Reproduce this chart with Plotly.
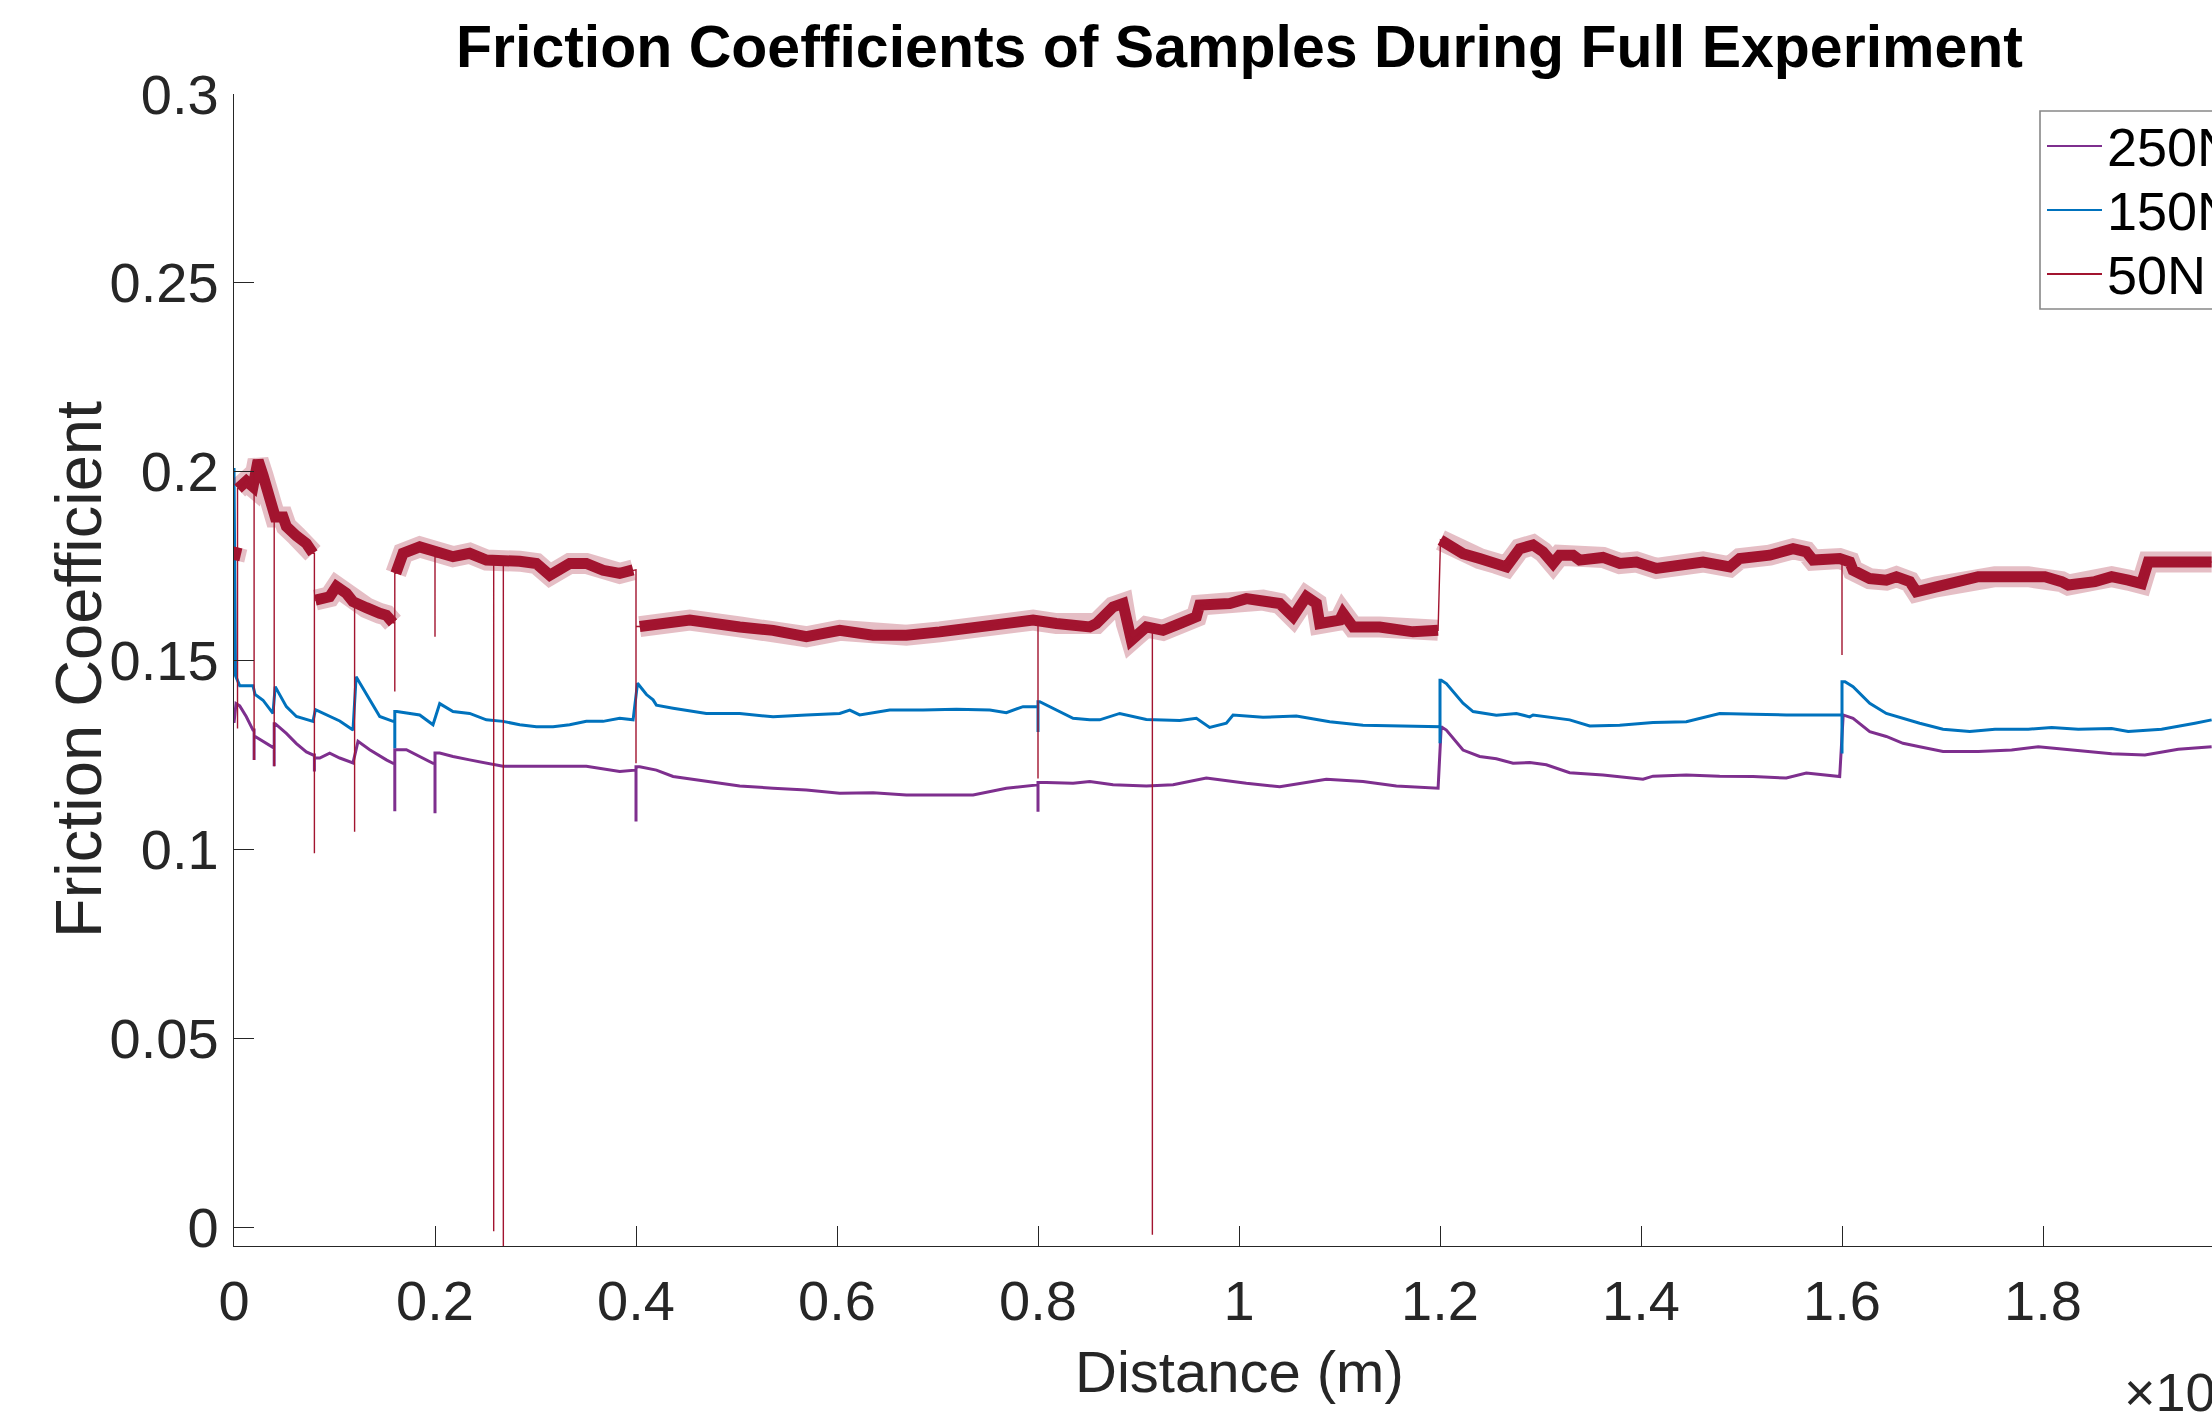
import plotly.graph_objects as go

# Distance in units of 10^4 m
p250_x = [0, 0.002, 0.0057, 0.0123, 0.0189, 0.021, 0.0289, 0.0388, 0.041, 0.0521, 0.0621, 0.0720, 0.0786,
          0.0853, 0.0952, 0.1052, 0.1184, 0.1234, 0.1350, 0.1516, 0.1582, 0.1715, 0.1848, 0.1980,
          0.2047, 0.2179, 0.2345, 0.2511, 0.2677, 0.2843, 0.3175, 0.3506, 0.3838, 0.3971,
          0.4037, 0.4203, 0.4369, 0.4700, 0.5032, 0.5364, 0.5695, 0.6027, 0.6359, 0.6690, 0.7022,
          0.7354, 0.7685, 0.7951, 0.8083, 0.8349, 0.8515, 0.8747, 0.9078, 0.9344, 0.9675, 1.0073,
          1.0405, 1.0869, 1.1234, 1.1566, 1.1981, 1.2012, 1.2063, 1.2229, 1.2395, 1.2561, 1.2727,
          1.2893, 1.3058, 1.3290, 1.3622, 1.4020, 1.4120, 1.4451, 1.4783, 1.5115, 1.5446, 1.5645,
          1.5977, 1.6012, 1.6110, 1.6276, 1.6441, 1.6607, 1.6773, 1.7005, 1.7356, 1.7688, 1.7953,
          1.8351, 1.8683, 1.9014, 1.9346, 1.9678]
p250_y = [0.1335, 0.1386, 0.1380, 0.1351, 0.1316, 0.1299, 0.1286, 0.1268, 0.1333, 0.1307, 0.1280, 0.1258, 0.1250,
          0.1242, 0.1255, 0.1242, 0.1229, 0.1286, 0.1264, 0.1237, 0.1228, 0.1264, 0.1246, 0.1228,
          0.1255, 0.1246, 0.1237, 0.1228, 0.1220, 0.1220, 0.1220, 0.1220, 0.1206, 0.1210,
          0.1219, 0.1210, 0.1193, 0.1180, 0.1168, 0.1162, 0.1157, 0.1149, 0.1150, 0.1144, 0.1144,
          0.1144, 0.1162, 0.1171, 0.1177, 0.1175, 0.1180, 0.1171, 0.1168, 0.1171, 0.1189, 0.1175,
          0.1166, 0.1186, 0.1180, 0.1168, 0.1162, 0.1325, 0.1316, 0.1263, 0.1246, 0.1240, 0.1228,
          0.1230, 0.1224, 0.1203, 0.1197, 0.1186, 0.1194, 0.1197, 0.1194, 0.1193, 0.1189, 0.1202,
          0.1193, 0.1356, 0.1347, 0.1312, 0.1299, 0.1281, 0.1272, 0.1259, 0.1259, 0.1263, 0.1272,
          0.1261, 0.1253, 0.1250, 0.1265, 0.1272]
p250_dip_x = [0.02, 0.04, 0.08, 0.16, 0.2, 0.4, 0.8]
p250_dip_y = [0.1237, 0.1220, 0.1206, 0.1101, 0.1096, 0.1074, 0.1100]

p150_x = [0, 0.0015, 0.0057, 0.0189, 0.021, 0.0289, 0.0388, 0.041, 0.0521, 0.0621, 0.0786, 0.081, 0.1052,
          0.1184, 0.1215, 0.1350, 0.1450, 0.1582, 0.162, 0.1848, 0.1980, 0.2047, 0.2179, 0.2345,
          0.2511, 0.2677, 0.2843, 0.3009, 0.3175, 0.3340, 0.3506, 0.3672, 0.3838, 0.3971,
          0.4015, 0.4104, 0.4170, 0.4203, 0.4369, 0.4700, 0.5032, 0.5364, 0.5695, 0.6027, 0.6127,
          0.6226, 0.6525, 0.6856, 0.7188, 0.7520, 0.7685, 0.7851, 0.8017, 0.8183, 0.8349, 0.8515,
          0.8614, 0.8813, 0.9078, 0.9410, 0.9576, 0.9708, 0.9874, 0.9941, 1.0239, 1.0571, 1.0903,
          1.1234, 1.1566, 1.1981, 1.2012, 1.2063, 1.2229, 1.2329, 1.2561, 1.2760, 1.2893, 1.2926,
          1.3290, 1.3490, 1.3788, 1.4120, 1.4451, 1.4783, 1.5115, 1.5446, 1.5977, 1.6030, 1.6110,
          1.6276, 1.6441, 1.6773, 1.7005, 1.7271, 1.7522, 1.7853, 1.8086, 1.8351, 1.8683, 1.8848,
          1.9180, 1.9512, 1.9678]
p150_y = [0.2010, 0.1460, 0.1433, 0.1433, 0.1410, 0.1395, 0.1360, 0.1431, 0.1378, 0.1352, 0.1339, 0.1370, 0.1340,
          0.1316, 0.1457, 0.1396, 0.1352, 0.1339, 0.1365, 0.1356, 0.1330, 0.1386, 0.1365, 0.1360,
          0.1343, 0.1339, 0.1330, 0.1325, 0.1325, 0.1330, 0.1339, 0.1339, 0.1347, 0.1343,
          0.1440, 0.1410, 0.1396, 0.1382, 0.1374, 0.1360, 0.1360, 0.1351, 0.1356, 0.1360, 0.1369,
          0.1356, 0.1369, 0.1369, 0.1371, 0.1369, 0.1362, 0.1378, 0.1391, 0.1369, 0.1347, 0.1343,
          0.1343, 0.1360, 0.1344, 0.1341, 0.1347, 0.1323, 0.1334, 0.1356, 0.1350, 0.1353, 0.1338,
          0.1329, 0.1327, 0.1325, 0.1448, 0.1439, 0.1387, 0.1365, 0.1355, 0.1360, 0.1351, 0.1356,
          0.1343, 0.1327, 0.1329, 0.1336, 0.1338, 0.1360, 0.1358, 0.1356, 0.1356, 0.1444, 0.1431,
          0.1387, 0.1360, 0.1334, 0.1318, 0.1312, 0.1318, 0.1318, 0.1323, 0.1318, 0.1320, 0.1312,
          0.1318, 0.1334, 0.1343]
p150_dip_x = [0.16, 0.8, 1.2, 1.6]
p150_dip_y = [0.1268, 0.1311, 0.1281, 0.1254]

p50_x = [0, 0.003, 0.004, 0.0123, 0.0189, 0.021, 0.024, 0.0289, 0.0322, 0.0388, 0.041, 0.0488, 0.0521,
         0.0621, 0.0720, 0.0786, 0.081, 0.0952, 0.1019, 0.1118, 0.1184, 0.121, 0.1317, 0.1450, 0.1516,
         0.1582, 0.161, 0.1682, 0.1848, 0.1980, 0.2179, 0.2345, 0.2511, 0.2843, 0.3009, 0.3142,
         0.3340, 0.3506, 0.3672, 0.3838, 0.3971, 0.4037, 0.4535, 0.5032, 0.5364, 0.5695, 0.6027,
         0.6359, 0.6690, 0.7022, 0.7354, 0.7685, 0.7951, 0.8183, 0.8515, 0.8581, 0.8747, 0.8846,
         0.8879, 0.8929, 0.9078, 0.9244, 0.9410, 0.9576, 0.9609, 0.9908, 1.0073, 1.0239, 1.0405,
         1.0538, 1.0670, 1.0770, 1.0803, 1.1002, 1.1035, 1.1135, 1.1400, 1.1732, 1.1981, 1.2005,
         1.2063, 1.2229, 1.2395, 1.2561, 1.2660, 1.2793, 1.2926, 1.3025, 1.3125, 1.3191, 1.3324,
         1.3390, 1.3622, 1.3788, 1.3954, 1.4153, 1.4451, 1.4617, 1.4883, 1.4982, 1.5281, 1.5513,
         1.5645, 1.5712, 1.5977, 1.6077, 1.6110, 1.6276, 1.6441, 1.6541, 1.6674, 1.6740, 1.6939,
         1.7105, 1.7190, 1.7356, 1.7522, 1.7853, 1.8019, 1.8185, 1.8251, 1.8517, 1.8683, 1.8848,
         1.8981, 1.9047, 1.9346, 1.9512, 1.9678]
p50_y = [0.1766, 0.1800, 0.1955, 0.1975, 0.1960, 0.2010, 0.2030, 0.1990, 0.1960, 0.1916, 0.1880, 0.1880, 0.1855,
         0.1830, 0.1810, 0.1784, 0.1660, 0.1669, 0.1696, 0.1678, 0.1656, 0.1652, 0.1640, 0.1625, 0.1620,
         0.1600, 0.1731, 0.1784, 0.1801, 0.1792, 0.1775, 0.1784, 0.1766, 0.1763, 0.1757, 0.1726,
         0.1757, 0.1757, 0.1739, 0.1731, 0.1740, 0.1590, 0.1607, 0.1589, 0.1580, 0.1563, 0.1580,
         0.1567, 0.1567, 0.1576, 0.1589, 0.1598, 0.1607, 0.1598, 0.1589, 0.1598, 0.1642, 0.1651,
         0.1598, 0.1554, 0.1589, 0.1580, 0.1598, 0.1616, 0.1647, 0.1651, 0.1664, 0.1660, 0.1651,
         0.1616, 0.1669, 0.1651, 0.1598, 0.1607, 0.1625, 0.1589, 0.1589, 0.1576, 0.1580, 0.1819,
         0.1810, 0.1783, 0.1770, 0.1757, 0.1748, 0.1796, 0.1806, 0.1788, 0.1757, 0.1779, 0.1779,
         0.1766, 0.1773, 0.1757, 0.1761, 0.1744, 0.1757, 0.1761, 0.1748, 0.1770, 0.1779, 0.1796,
         0.1788, 0.1766, 0.1770, 0.1761, 0.1739, 0.1717, 0.1713, 0.1722, 0.1709, 0.1682, 0.1695,
         0.1704, 0.1709, 0.1722, 0.1722, 0.1722, 0.1722, 0.1709, 0.1700, 0.1709, 0.1722, 0.1713,
         0.1704, 0.1761, 0.1761, 0.1757, 0.1761]
p50_dip_x = [0.0035, 0.02, 0.04, 0.08, 0.12, 0.16, 0.2, 0.2584, 0.268, 0.4, 0.8, 0.9138, 1.6]
p50_dip_y = [0.1320, 0.1237, 0.1220, 0.0990, 0.1047, 0.1418, 0.1563, -0.0011, -0.0060, 0.1228, 0.1188, -0.0020, 0.1515]

names = ["250N", "150N", "50N"]
colors = ["#7E2F8E", "#0072BD", "#A2142F"]

x_ticks = [0, 0.2, 0.4, 0.6, 0.8, 1.0, 1.2, 1.4, 1.6, 1.8]
x_ticktext = ["0", "0.2", "0.4", "0.6", "0.8", "1", "1.2", "1.4", "1.6", "1.8"]
y_ticks = [0, 0.05, 0.1, 0.15, 0.2, 0.25, 0.3]
y_ticktext = ["0", "0.05", "0.1", "0.15", "0.2", "0.25", "0.3"]

FONT = "Liberation Sans, Arial, sans-serif"


def with_dips(lx, ly, dx, dy):
    """Merge level series with downward dips (drawn as vertical excursions)."""
    ox, oy = [], []
    di = 0
    for x, y in zip(lx, ly):
        while di < len(dx) and dx[di] < x:
            prev_y = oy[-1] if oy else y
            ox += [dx[di], dx[di], dx[di]]
            oy += [prev_y, dy[di], y]
            di += 1
        ox.append(x)
        oy.append(y)
    return ox, oy


def band(lx, ly, thresh=0.006):
    ox, oy = [], []
    for i, (x, y) in enumerate(zip(lx, ly)):
        if i > 0 and abs(y - ly[i - 1]) > thresh:
            ox.append(None)
            oy.append(None)
        ox.append(x)
        oy.append(y)
    return ox, oy


fig = go.Figure()
series = [(p250_x, p250_y, p250_dip_x, p250_dip_y),
          (p150_x, p150_y, p150_dip_x, p150_dip_y),
          (p50_x, p50_y, p50_dip_x, p50_dip_y)]

for k, (lx, ly, dx, dy) in enumerate(series):
    fx, fy = with_dips(lx, ly, dx, dy)
    if k == 2:
        bx, by = band(lx, ly)
        # faint fringe representing the noise envelope of the 50N signal
        fig.add_trace(go.Scatter(x=bx, y=by, mode="lines", showlegend=False, name=names[k],
                                 line=dict(color="rgba(162,20,47,0.28)", width=21), hoverinfo="skip"))
        fig.add_trace(go.Scatter(x=bx, y=by, mode="lines", showlegend=False, name=names[k],
                                 line=dict(color=colors[k], width=11), hoverinfo="skip"))
        fig.add_trace(go.Scatter(x=fx, y=fy, mode="lines", showlegend=False, name=names[k],
                                 line=dict(color=colors[k], width=1.4)))
    else:
        fig.add_trace(go.Scatter(x=fx, y=fy, mode="lines", showlegend=False, name=names[k],
                                 line=dict(color=colors[k], width=3)))

W, H = 2212, 1418
L, T, B = 234, 94, 172
plot_h = H - T - B
plot_w = W - L
xmax = plot_w / 1005.0

axis_common = dict(showgrid=False, zeroline=False, ticks="inside", ticklen=20, tickwidth=1.3,
                   tickcolor="#262626", showline=True, linecolor="#262626", linewidth=1.4,
                   tickfont=dict(family=FONT, size=56, color="#262626"), mirror=False)

fig.update_layout(
    width=W, height=H,
    margin=dict(l=L, r=0, t=T, b=B, pad=0),
    paper_bgcolor="white", plot_bgcolor="white",
    xaxis=dict(range=[0, xmax], tickvals=x_ticks, ticktext=x_ticktext, ticklabelstandoff=6, **axis_common),
    yaxis=dict(range=[-0.005, 0.3], tickvals=y_ticks, ticktext=y_ticktext, ticklabelstandoff=3, **axis_common),
    showlegend=False,
)


def px(xp):
    return (xp - L) / plot_w


def py(yp):
    return 1 - (yp - T) / plot_h


# legend box (extends past the right edge like the reference)
fig.add_shape(type="rect", xref="paper", yref="paper", x0=px(2040), x1=px(2330), y0=py(309), y1=py(111),
              line=dict(color="#888888", width=1.6), fillcolor="white", layer="above")
rows = [146, 210, 274]
for k in range(3):
    fig.add_shape(type="line", xref="paper", yref="paper", x0=px(2047), x1=px(2102), y0=py(rows[k]),
                  y1=py(rows[k]), line=dict(color=colors[k], width=1.8), layer="above")
    fig.add_annotation(text=names[k], xref="paper", yref="paper", x=px(2105), y=py(rows[k] + 1),
                       xanchor="left", yanchor="middle", showarrow=False,
                       font=dict(family=FONT, size=54, color="black"))

xc = px(1239)
fig.add_annotation(text="<b>Friction Coefficients of Samples During Full Experiment</b>",
                   xref="paper", yref="paper", x=xc, y=py(47),
                   xanchor="center", yanchor="middle", showarrow=False,
                   font=dict(family=FONT, size=59, color="black"))
fig.add_annotation(text="Distance (m)", xref="paper", yref="paper", x=xc, y=py(1371),
                   xanchor="center", yanchor="middle", showarrow=False,
                   font=dict(family=FONT, size=58, color="#262626"))
fig.add_annotation(text="Friction Coefficient", xref="paper", yref="paper", x=px(78), y=0.5,
                   xanchor="center", yanchor="middle", textangle=-90, showarrow=False,
                   font=dict(family=FONT, size=65, color="#262626"))
fig.add_annotation(text="×10<sup>4</sup>", xref="paper", yref="paper", x=px(2122),
                   y=py(1388), xanchor="left", yanchor="middle", showarrow=False,
                   font=dict(family=FONT, size=54, color="#262626"))

fig.write_html("out.html")
